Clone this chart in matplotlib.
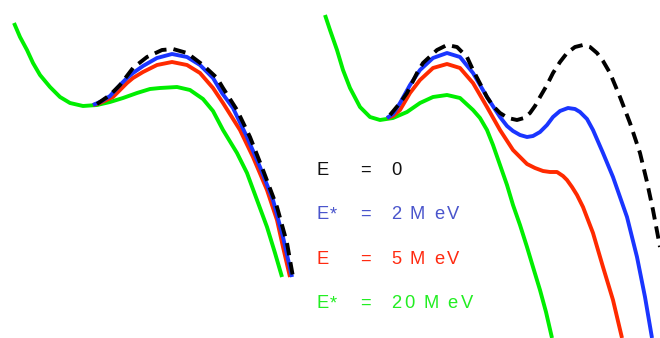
import matplotlib
matplotlib.use("Agg")
import matplotlib.pyplot as plt

# curves, pixel coordinates (x right, y down)
# left panel
left_green_x = [14, 20, 27, 33, 40, 50, 60, 70, 83, 97, 110, 123, 137, 150, 160, 177, 190, 203, 213, 223, 237, 247, 257, 267, 275, 282]
left_green_y = [23, 37, 50, 63, 75, 87, 97, 103, 106, 105, 102, 98, 93, 89, 88, 87, 90, 99, 111, 130, 153, 173, 200, 227, 253, 277]
left_red_x = [93, 100, 113, 120, 127, 133, 143, 157, 172, 187, 200, 213, 223, 240, 253, 267, 277, 283, 290]
left_red_y = [105, 103, 97, 90, 83, 78, 72, 65, 62, 65, 73, 88, 103, 130, 157, 190, 220, 247, 277]
left_blue_x = [93, 102, 110, 120, 127, 133, 143, 157, 172, 187, 200, 213, 222, 233, 247, 260, 273, 283, 292]
left_blue_y = [105, 101, 96, 85, 78, 73, 66, 58, 54, 57, 65, 78, 93, 108, 137, 167, 200, 237, 277]
left_black_x = [97, 110, 120, 133, 147, 162, 173, 187, 203, 217, 223, 237, 250, 263, 277, 287, 293]
left_black_y = [104, 95, 85, 68, 57, 50, 49, 53, 65, 78, 88, 110, 137, 170, 207, 243, 277]

# right panel
right_green_x = [325, 330, 337, 343, 350, 360, 370, 380, 393, 407, 420, 433, 447, 460, 473, 480, 487, 493, 500, 507, 513, 520, 527, 533, 540, 546, 552]
right_green_y = [15, 30, 50, 70, 88, 107, 117, 120, 118, 112, 103, 97, 95, 98, 110, 118, 130, 145, 165, 185, 205, 225, 247, 267, 290, 312, 338]
right_red_x = [387, 393, 400, 410, 420, 433, 447, 460, 473, 487, 500, 513, 527, 535, 543, 550, 557, 563, 567, 572, 577, 583, 593, 603, 613, 622]
right_red_y = [118, 116, 110, 93, 80, 68, 64, 68, 83, 107, 130, 150, 164, 168, 171, 172, 172, 176, 180, 187, 195, 207, 233, 267, 300, 338]
right_blue_x = [387, 393, 400, 410, 420, 433, 447, 460, 473, 487, 500, 507, 513, 520, 527, 533, 540, 547, 553, 560, 568, 575, 580, 587, 593, 603, 613, 620, 627, 637, 645, 652]
right_blue_y = [118, 114, 103, 85, 70, 58, 53, 57, 73, 97, 117, 126, 131, 135, 137, 136, 132, 125, 117, 111, 108, 109, 112, 119, 130, 153, 177, 197, 217, 257, 297, 338]
right_black_x = [390, 400, 407, 417, 423, 437, 447, 457, 467, 473, 487, 493, 500, 508, 517, 524, 530, 535, 540, 547, 553, 560, 567, 575, 583, 590, 597, 603, 610, 620, 630, 640, 647, 653, 660]
right_black_y = [115, 103, 93, 73, 63, 50, 45, 47, 57, 70, 97, 106, 113, 118, 120, 118, 113, 106, 97, 85, 73, 62, 53, 47, 45, 47, 53, 61, 73, 97, 123, 153, 182, 210, 247]

# legend text
labels = ["E", "E*", "E", "E*"]
values = ["0", "2 M eV", "5 M eV", "20 M eV"]
text_colors = ["#111111", "#4a55cc", "#ff2a10", "#22ee22"]
row_baseline = [175, 219, 264, 308]

blue = "#1a35ff"
red = "#ff2a00"
green = "#00ee00"

fig = plt.figure(figsize=(6.6, 3.38), dpi=100)
ax = fig.add_axes([0, 0, 1, 1])
ax.set_xlim(0, 660)
ax.set_ylim(338, 0)
ax.axis("off")

lw = 2.8
style = dict(lw=lw, solid_capstyle="butt", solid_joinstyle="round")
dash = dict(lw=lw, dashes=(3.2, 1.8), dash_joinstyle="round")
ax.plot(left_green_x, left_green_y, color=green, **style)
ax.plot(left_red_x, left_red_y, color=red, **style)
ax.plot(left_blue_x, left_blue_y, color=blue, **style)
ax.plot(left_black_x, left_black_y, color="black", **dash)

ax.plot(right_green_x, right_green_y, color=green, **style)
ax.plot(right_red_x, right_red_y, color=red, **style)
ax.plot(right_blue_x, right_blue_y, color=blue, **style)
ax.plot(right_black_x, right_black_y, color="black", **dash)

renderer = fig.canvas.get_renderer()
font = dict(family="Liberation Sans", fontsize=13.2, va="baseline", ha="left")


def spaced_text(x, y, s, color, gap=3.2, space=5.5):
    # the reference text is letter-spaced, so place glyph by glyph
    for ch in s:
        if ch == " ":
            x += space
            continue
        t = ax.text(x, y, ch, color=color, **font)
        x += t.get_window_extent(renderer).width + gap


for lab, val, c, y in zip(labels, values, text_colors, row_baseline):
    spaced_text(316, y, lab, c, gap=1.5)
    ax.text(360, y, "=", color=c, **font)
    spaced_text(391, y, val, c)

fig.savefig("out.png", dpi=100)
